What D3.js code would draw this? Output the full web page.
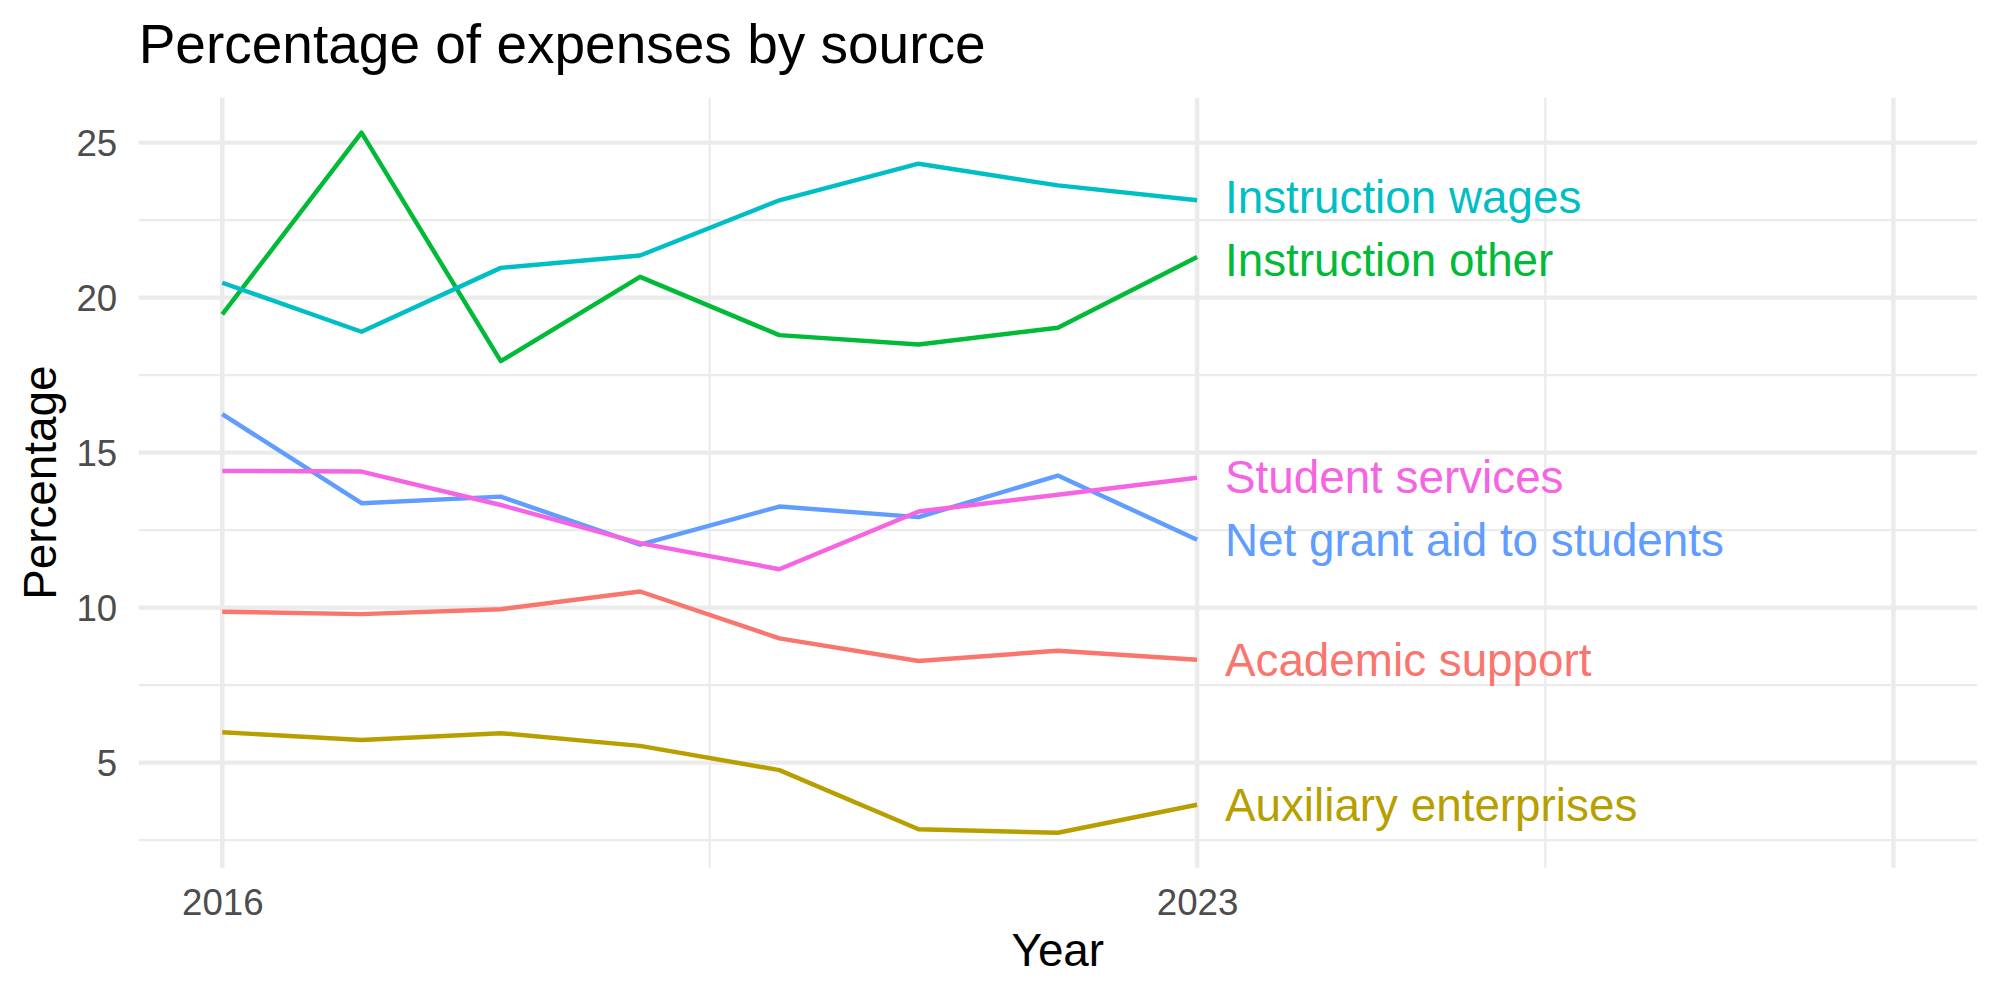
<!DOCTYPE html>
<html>
<head>
<meta charset="utf-8">
<script src="https://cdn.jsdelivr.net/npm/d3@7"></script>
<style>
    body { margin: 0; background: #fff; }
    svg { display: block; font-family: "Liberation Sans", Arial, sans-serif; }
</style>
</head>
<body>
<svg id="chart"></svg>
<script>
// data
const years = [2016, 2017, 2018, 2019, 2020, 2021, 2022, 2023];

const sources = [
    'Academic support',
    'Auxiliary enterprises',
    'Instruction other',
    'Instruction wages',
    'Net grant aid to students',
    'Student services'
];

const academicSupport = [9.87, 9.79, 9.95, 10.52, 9.01, 8.28, 8.61, 8.32];
const auxiliaryEnterprises = [5.98, 5.73, 5.95, 5.54, 4.76, 2.85, 2.74, 3.64];
const instructionOther = [19.46, 25.32, 17.95, 20.67, 18.79, 18.49, 19.03, 21.31];
const instructionWages = [20.48, 18.90, 20.96, 21.36, 23.14, 24.32, 23.62, 23.14];
const netGrantAid = [16.24, 13.37, 13.58, 12.03, 13.26, 12.92, 14.26, 12.19];
const studentServices = [14.41, 14.39, 13.31, 12.08, 11.24, 13.10, 13.64, 14.19];

const xLimits = [2016, 2028];
const xBreaks = [2016, 2023, 2028];
const xTickLabels = ['2016', '2023', ''];
const xMinorBreaks = [2019.5, 2025.5];
const yBreaks = [5, 10, 15, 20, 25];
const yMinorBreaks = [2.5, 7.5, 12.5, 17.5, 22.5];

const palette = ['#F8766D', '#B79F00', '#00BA38', '#00BFC4', '#619CFF', '#F564E3'];

let seriesValues = [academicSupport, auxiliaryEnterprises, instructionOther,
    instructionWages, netGrantAid, studentServices];

let series = sources.map((name, i) => ({
    name: name,
    points: years.map((yr, j) => ({ year: yr, value: seriesValues[i][j] }))
}));

let width = 2000,
    height = 1000;

let margin = { left: 138.7, right: 23, top: 97.7, bottom: 132.3 };

let svg = d3.select('#chart')
    .attr('width', width)
    .attr('height', height);

// ggplot style 5% expansion
function expand(ext) {
    let pad = (ext[1] - ext[0]) * 0.05;
    return [ext[0] - pad, ext[1] + pad];
}

let allValues = seriesValues.flat();

let scaleX = d3.scaleLinear()
    .domain(expand(xLimits))
    .range([margin.left, width - margin.right]);

let scaleY = d3.scaleLinear()
    .domain(expand(d3.extent(allValues)))
    .range([height - margin.bottom, margin.top]);

let color = d3.scaleOrdinal().domain(sources).range(palette);

let x0 = margin.left, x1 = width - margin.right;
let y0 = margin.top, y1 = height - margin.bottom;

// grid
let grid = svg.append('g').attr('stroke', '#EBEBEB').attr('fill', 'none');

grid.selectAll('.hmin').data(yMinorBreaks).enter().append('line')
    .attr('x1', x0).attr('x2', x1)
    .attr('y1', d => scaleY(d)).attr('y2', d => scaleY(d))
    .attr('stroke-width', 2.22);

grid.selectAll('.vmin').data(xMinorBreaks).enter().append('line')
    .attr('y1', y0).attr('y2', y1)
    .attr('x1', d => scaleX(d)).attr('x2', d => scaleX(d))
    .attr('stroke-width', 2.22);

grid.selectAll('.hmaj').data(yBreaks).enter().append('line')
    .attr('x1', x0).attr('x2', x1)
    .attr('y1', d => scaleY(d)).attr('y2', d => scaleY(d))
    .attr('stroke-width', 4.45);

grid.selectAll('.vmaj').data(xBreaks).enter().append('line')
    .attr('y1', y0).attr('y2', y1)
    .attr('x1', d => scaleX(d)).attr('x2', d => scaleX(d))
    .attr('stroke-width', 4.45);

// axes (no domain line, no ticks, like theme_minimal)
let xAxis = d3.axisBottom(scaleX)
    .tickValues(xBreaks)
    .tickFormat((d, i) => xTickLabels[i])
    .tickSize(0)
    .tickPadding(0);

let xAxisG = svg.append('g')
    .attr('transform', `translate(0, ${y1})`)
    .call(xAxis);
xAxisG.select('.domain').remove();
xAxisG.selectAll('text')
    .attr('y', 47)
    .attr('dy', null)
    .attr('fill', '#4D4D4D')
    .style('font-size', '36.67px')
    .style('font-family', '"Liberation Sans", Arial, sans-serif');

let yAxis = d3.axisLeft(scaleY)
    .tickValues(yBreaks)
    .tickSize(0)
    .tickPadding(0);

let yAxisG = svg.append('g')
    .attr('transform', `translate(${x0}, 0)`)
    .call(yAxis);
yAxisG.select('.domain').remove();
yAxisG.selectAll('text')
    .attr('x', -21.5)
    .attr('dy', '0.36em')
    .attr('fill', '#4D4D4D')
    .style('font-size', '36.67px')
    .style('font-family', '"Liberation Sans", Arial, sans-serif');

// lines
let line = d3.line()
    .x(d => scaleX(d.year))
    .y(d => scaleY(d.value));

svg.append('g')
    .selectAll('path')
    .data(series)
    .enter()
    .append('path')
    .attr('d', d => line(d.points))
    .attr('fill', 'none')
    .attr('stroke', d => color(d.name))
    .attr('stroke-width', 4.45)
    .attr('stroke-linejoin', 'round');

// end labels, pushed apart a little when they crowd (like ggrepel)
let labels = series.map(s => {
    let last = s.points[s.points.length - 1];
    return { name: s.name, year: last.year, y: scaleY(last.value) };
}).sort((a, b) => a.y - b.y);

let minGap = 63.3;
for (let k = 0; k < 20; k++) {
    for (let i = 1; i < labels.length; i++) {
        let gap = labels[i].y - labels[i - 1].y;
        if (gap < minGap) {
            let shift = (minGap - gap) / 2;
            labels[i - 1].y -= shift;
            labels[i].y += shift;
        }
    }
}

svg.append('g')
    .selectAll('text')
    .data(labels)
    .enter()
    .append('text')
    .attr('x', d => scaleX(d.year + 0.2))
    .attr('y', d => d.y)
    .attr('dy', '0.35em')
    .attr('fill', d => color(d.name))
    .style('font-size', '45.8px')
    .text(d => d.name);

// titles
svg.append('text')
    .attr('x', x0)
    .attr('y', 63.3)
    .style('font-size', '55px')
    .attr('fill', '#000')
    .text('Percentage of expenses by source');

svg.append('text')
    .attr('x', (x0 + x1) / 2)
    .attr('y', 966)
    .attr('text-anchor', 'middle')
    .style('font-size', '45.8px')
    .attr('fill', '#000')
    .text('Year');

svg.append('text')
    .attr('transform', `translate(56, ${(y0 + y1) / 2}) rotate(-90)`)
    .attr('text-anchor', 'middle')
    .style('font-size', '45.8px')
    .attr('fill', '#000')
    .text('Percentage');
</script>
</body>
</html>
